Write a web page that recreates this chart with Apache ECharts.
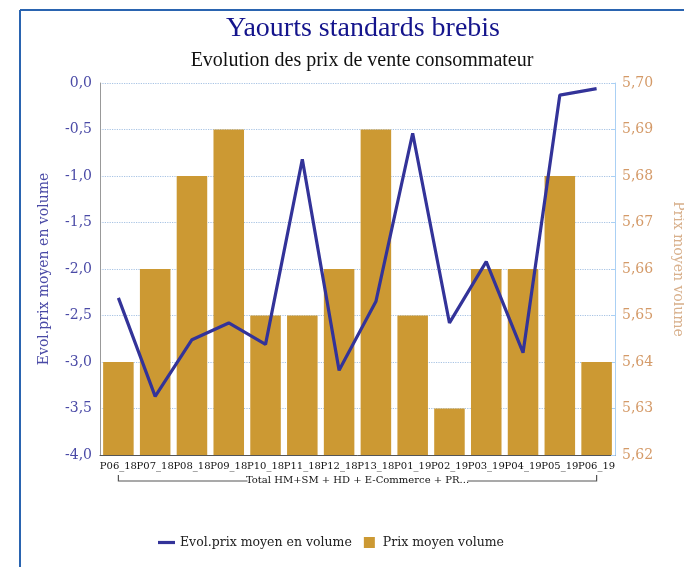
<!DOCTYPE html>
<html>
<head>
<meta charset="utf-8">
<title>Yaourts standards brebis</title>
<script src="https://cdn.jsdelivr.net/npm/echarts@6/dist/echarts.min.js"></script>
<style>
    html, body { margin: 0; padding: 0; background: #fff; }
    #main { width: 684px; height: 567px; }
</style>
</head>
<body>
<div id="main"></div>
<script>
// periodes
var categories = ['P06_18', 'P07_18', 'P08_18', 'P09_18', 'P10_18', 'P11_18', 'P12_18',
                  'P13_18', 'P01_19', 'P02_19', 'P03_19', 'P04_19', 'P05_19', 'P06_19'];
// Evol.prix moyen en volume (axe gauche)
var evolPrix = [-2.31, -3.37, -2.76, -2.58, -2.81, -0.82, -3.09,
                -2.35, -0.54, -2.58, -1.92, -2.90, -0.13, -0.06];
// Prix moyen volume (axe droit)
var prixMoyen = [5.64, 5.66, 5.68, 5.69, 5.65, 5.65, 5.66,
                 5.69, 5.65, 5.63, 5.66, 5.66, 5.68, 5.64];
var groupLabel = 'Total HM+SM + HD + E-Commerce + PR...';

var chart = echarts.init(document.getElementById('main'));
var serif = '"DejaVu Serif", serif';

chart.setOption({
    animation: false,
    title: [
        {
            text: 'Yaourts standards brebis',
            left: 358, top: 10, textAlign: 'center',
            textStyle: { fontFamily: '"Liberation Serif", serif', fontSize: 28, fontWeight: 'normal', color: '#14148c' }
        },
        {
            text: 'Evolution des prix de vente consommateur',
            left: 357, top: 46, textAlign: 'center',
            textStyle: { fontFamily: '"Liberation Serif", serif', fontSize: 20, fontWeight: 'normal', color: '#111' }
        }
    ],
    legend: {
        bottom: 13, left: 153,
        itemGap: 12,
        itemWidth: 17, itemHeight: 11,
        textStyle: { fontFamily: serif, fontSize: 12.5, color: '#222' },
        data: [
            { name: 'Evol.prix moyen en volume', icon: 'path://M0,0L17,0L17,3.2L0,3.2Z', itemStyle: { color: '#333399' } },
            { name: 'Prix moyen volume', icon: 'path://M0,0L11,0L11,11L0,11Z' }
        ]
    },
    grid: { left: 100, right: 69, top: 83, bottom: 112, outerBoundsMode: 'none', containLabel: false },
    xAxis: {
        type: 'category',
        data: categories,
        axisLine: { onZero: false, lineStyle: { color: '#555', width: 1 } },
        axisTick: { show: false },
        axisLabel: { interval: 0, fontFamily: serif, fontSize: 10, color: '#111', margin: 6 }
    },
    yAxis: [
        {
            type: 'value', min: -4, max: 0, interval: 0.5,
            name: 'Evol.prix moyen en volume', nameLocation: 'middle', nameGap: 49, nameRotate: 90,
            nameTextStyle: { fontFamily: serif, fontSize: 14, color: '#4a4aa6' },
            axisLine: { show: true, onZero: false, lineStyle: { color: '#999' } },
            axisTick: { show: false },
            axisLabel: {
                fontFamily: serif, fontSize: 14, color: '#4a4aa6', margin: 8,
                formatter: function (v) { return v.toFixed(1).replace('.', ','); }
            },
            splitLine: { lineStyle: { color: '#a8c4e4', type: 'dotted', width: 1.2 } }
        },
        {
            type: 'value', min: 5.62, max: 5.70, interval: 0.01,
            name: 'Prix moyen volume', nameLocation: 'middle', nameGap: 56, nameRotate: -90,
            nameTextStyle: { fontFamily: serif, fontSize: 14, color: '#d8b08c' },
            axisLine: { show: true, onZero: false, lineStyle: { color: '#aad0f4' } },
            axisTick: { show: true, inside: true, length: 4, lineStyle: { color: '#aad0f4' } },
            axisLabel: {
                fontFamily: serif, fontSize: 14, color: '#d49a68', margin: 7,
                formatter: function (v) { return v.toFixed(2).replace('.', ','); }
            },
            splitLine: { show: false }
        }
    ],
    series: [
        {
            name: 'Prix moyen volume', type: 'bar', yAxisIndex: 1,
            data: prixMoyen, barCategoryGap: '17%',
            itemStyle: { color: '#cc9933' }
        },
        {
            name: 'Evol.prix moyen en volume', type: 'line', yAxisIndex: 0,
            data: evolPrix, symbol: 'none', z: 5,
            lineStyle: { color: '#333399', width: 3.2 },
            itemStyle: { color: '#333399' }
        }
    ]
});

// cadre et accolade du groupe sous l'axe des periodes
var x0 = chart.convertToPixel({ xAxisIndex: 0 }, 0);
var x1 = chart.convertToPixel({ xAxisIndex: 0 }, categories.length - 1);
var xm = (x0 + x1) / 2, yb = 481, half = 106;
var bracketStyle = { stroke: '#555', lineWidth: 1.2 };
chart.setOption({
    graphic: [
        { type: 'line', shape: { x1: 20, y1: 10, x2: 684, y2: 10 }, style: { stroke: '#2a64b0', lineWidth: 2 } },
        { type: 'line', shape: { x1: 20, y1: 10, x2: 20, y2: 567 }, style: { stroke: '#2a64b0', lineWidth: 2 } },
        { type: 'polyline', shape: { points: [[x0, 475], [x0, yb], [xm - half - 4, yb]] }, style: bracketStyle },
        { type: 'polyline', shape: { points: [[xm + half + 4, yb], [x1, yb], [x1, 475]] }, style: bracketStyle },
        {
            type: 'text', x: xm, y: yb - 1,
            style: { text: groupLabel, fontFamily: serif, fontSize: 10, fill: '#111', align: 'center', verticalAlign: 'middle' }
        }
    ]
});
window.onresize = chart.resize;
</script>
</body>
</html>
